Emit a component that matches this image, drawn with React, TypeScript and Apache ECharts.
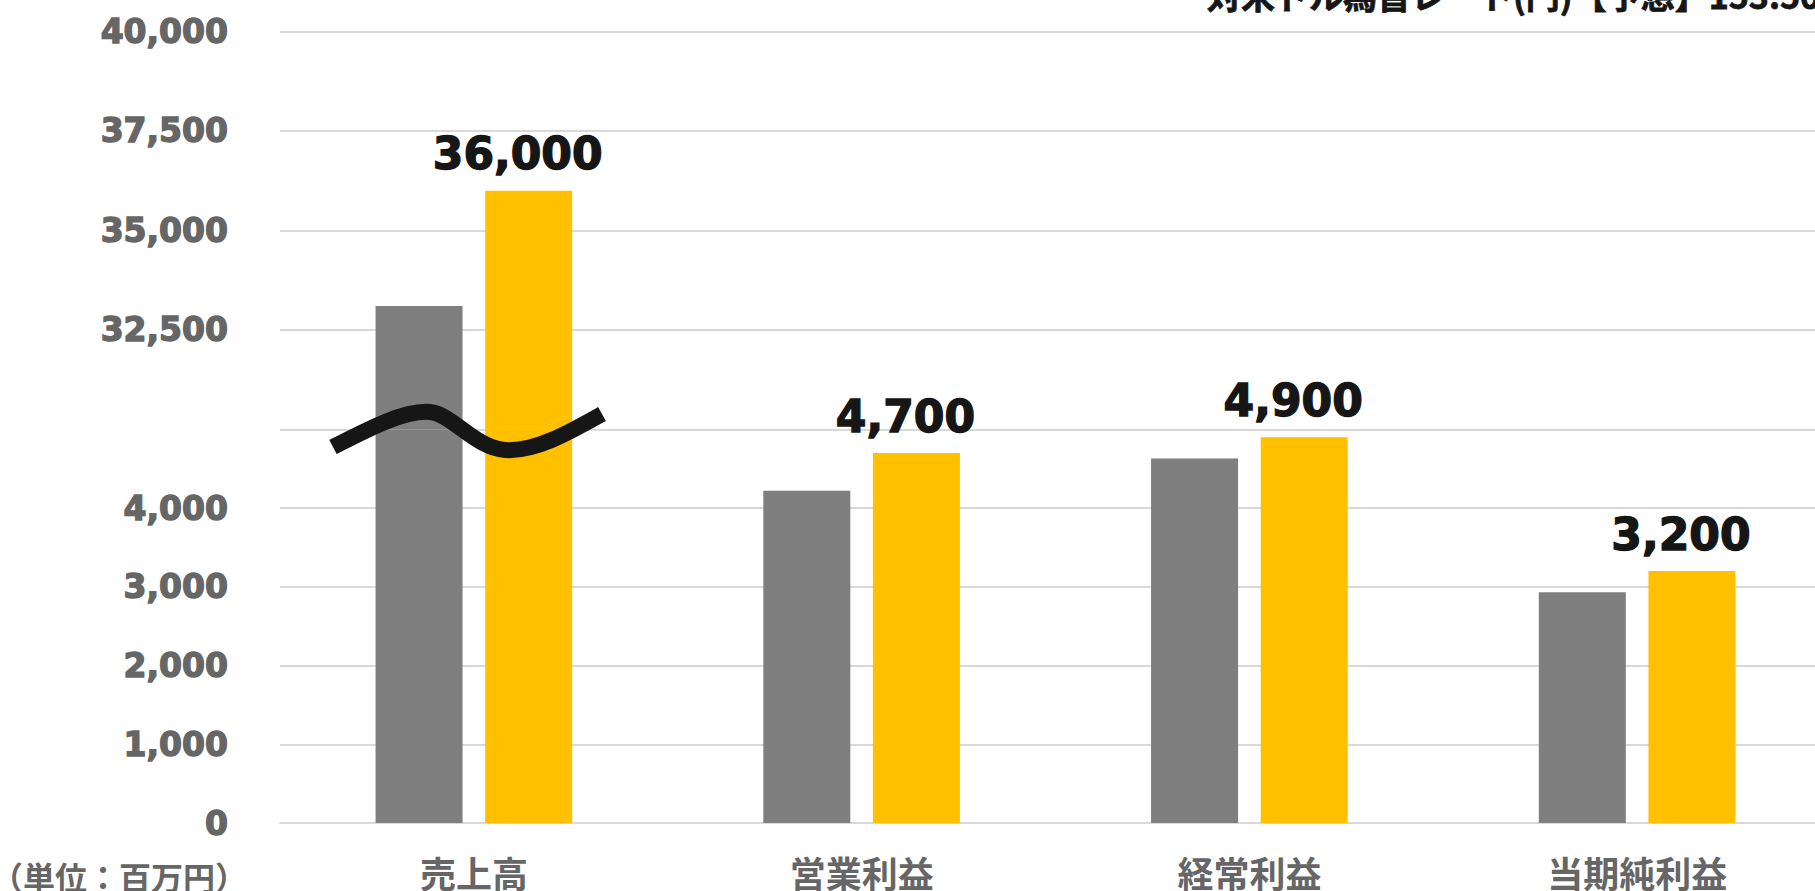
import React, { useEffect, useRef } from "react";
import * as echarts from "echarts";

// Categories along the x axis
const categories = ["売上高", "営業利益", "経常利益", "当期純利益"];
// Previous fiscal year (grey) and forecast (yellow), in millions of yen
const previousValues = [33100, 4220, 4630, 2930];
const forecastValues = [36000, 4700, 4900, 3200];

// The value axis is split in two: a lower band and an upper band
const lowerMin = 0;
const lowerMax = 5000;
const lowerInterval = 1000;
const upperMin = 30000;
const upperMax = 40000;
const upperInterval = 2500;

const unitText = "（単位：百万円）";
const rateText = "対米ドル為替レート(円)【予想】153.50";

const GREY = "#7f7f7f";
const YELLOW = "#ffc000";
const GRID_LINE = "#d9d9d9";
const AXIS_TEXT = "#666666";
const LABEL_TEXT = "#161616";
const NUM_FONT = '"DejaVu Sans", Verdana, sans-serif';
const JP_FONT = '"Noto Sans CJK JP", "Noto Sans", sans-serif';

// Wavy stroke marking the break in the value axis
const WAVE_D =
  "M333 447 C370 428 405 410 430 412 C452 414 475 448 505 450 C535 452 570 432 602 414";
echarts.graphic.registerShape("breakWave", echarts.graphic.extendPath(WAVE_D, {}));

const fmt = (v: number) => v.toLocaleString("en-US");

export default function App() {
  const ref = useRef<HTMLDivElement>(null);

  useEffect(() => {
    if (!ref.current) return;
    const chart = echarts.init(ref.current, null, { renderer: "svg" });

    const gridLeft = 280;
    const gridWidth = 1551;
    const upperTop = 31.5;
    const breakY = 429.4;
    const baseY = 823;

    const valueLabel = {
      show: true,
      position: "top" as const,
      distance: 15,
      offset: [-11, 0],
      color: LABEL_TEXT,
      fontFamily: NUM_FONT,
      fontWeight: "bold" as const,
      fontSize: 44,
      textBorderColor: LABEL_TEXT,
      textBorderWidth: 1.4,
      formatter: (p: any) => fmt(p.value),
    };

    const lowerData = (vals: number[], withLabel: boolean) =>
      vals.map((v) => ({
        value: v,
        label: { show: withLabel && v <= lowerMax },
      }));
    const upperData = (vals: number[], withLabel: boolean) =>
      vals.map((v) =>
        v > lowerMax ? { value: v, label: { show: withLabel } } : "-"
      );

    const yAxisCommon = {
      type: "value" as const,
      axisLine: { show: false },
      axisTick: { show: false },
      splitLine: { show: true, lineStyle: { color: GRID_LINE, width: 2 } },
      axisLabel: {
        color: AXIS_TEXT,
        fontFamily: NUM_FONT,
        fontWeight: "bold" as const,
        fontSize: 33,
        textBorderColor: AXIS_TEXT,
        textBorderWidth: 1.4,
        margin: 52,
      },
    };

    const bar = (name: string, color: string, axis: number, data: any[], label: any) => ({
      name,
      type: "bar",
      xAxisIndex: axis,
      yAxisIndex: axis,
      barWidth: 87,
      barGap: "26%",
      clip: true,
      itemStyle: { color },
      label,
      data,
    });

    chart.setOption({
      animation: false,
      backgroundColor: "#ffffff",
      grid: [
        {
          left: gridLeft,
          width: gridWidth,
          top: breakY,
          height: baseY - breakY,
          containLabel: false,
          outerBoundsMode: "none",
        },
        {
          left: gridLeft,
          width: gridWidth,
          top: upperTop,
          height: breakY - upperTop,
          containLabel: false,
          outerBoundsMode: "none",
        },
      ],
      xAxis: [
        {
          type: "category",
          gridIndex: 0,
          data: categories,
          axisLine: { show: true, lineStyle: { color: GRID_LINE, width: 2 } },
          axisTick: { show: false },
          axisLabel: {
            color: AXIS_TEXT,
            fontFamily: JP_FONT,
            fontWeight: "bold",
            fontSize: 36,
            margin: 31,
          },
        },
        {
          type: "category",
          gridIndex: 1,
          data: categories,
          show: false,
        },
      ],
      yAxis: [
        {
          ...yAxisCommon,
          gridIndex: 0,
          min: lowerMin,
          max: lowerMax,
          interval: lowerInterval,
          axisLabel: {
            ...yAxisCommon.axisLabel,
            formatter: (v: number) => (v >= lowerMax ? "" : fmt(v)),
          },
        },
        {
          ...yAxisCommon,
          gridIndex: 1,
          min: upperMin,
          max: upperMax,
          interval: upperInterval,
          axisLabel: {
            ...yAxisCommon.axisLabel,
            formatter: (v: number) => (v <= upperMin ? "" : fmt(v)),
          },
        },
      ],
      series: [
        bar("前期", GREY, 0, lowerData(previousValues, false), { ...valueLabel, show: false }),
        bar("予想", YELLOW, 0, lowerData(forecastValues, true), valueLabel),
        bar("前期", GREY, 1, upperData(previousValues, false), { ...valueLabel, show: false }),
        bar("予想", YELLOW, 1, upperData(forecastValues, true), valueLabel),
      ],
      graphic: [
        {
          type: "breakWave",
          x: 0,
          y: 0,
          z: 100,
          style: {
            fill: "none",
            stroke: LABEL_TEXT,
            lineWidth: 16,
            lineCap: "butt",
          },
        },
        {
          type: "text",
          x: 247,
          y: 876,
          style: {
            text: unitText,
            align: "right",
            verticalAlign: "middle",
            fill: AXIS_TEXT,
            font: `bold 32px ${JP_FONT}`,
          },
        },
        {
          type: "text",
          x: 1207,
          y: -6,
          style: {
            text: rateText,
            align: "left",
            verticalAlign: "middle",
            fill: LABEL_TEXT,
            font: `bold 34px ${JP_FONT}`,
            stroke: LABEL_TEXT,
            lineWidth: 0.8,
          },
        },
      ],
    });

    return () => chart.dispose();
  }, []);

  return (
    <div
      ref={ref}
      style={{ position: "fixed", left: 0, top: 0, width: 1815, height: 891 }}
    />
  );
}
